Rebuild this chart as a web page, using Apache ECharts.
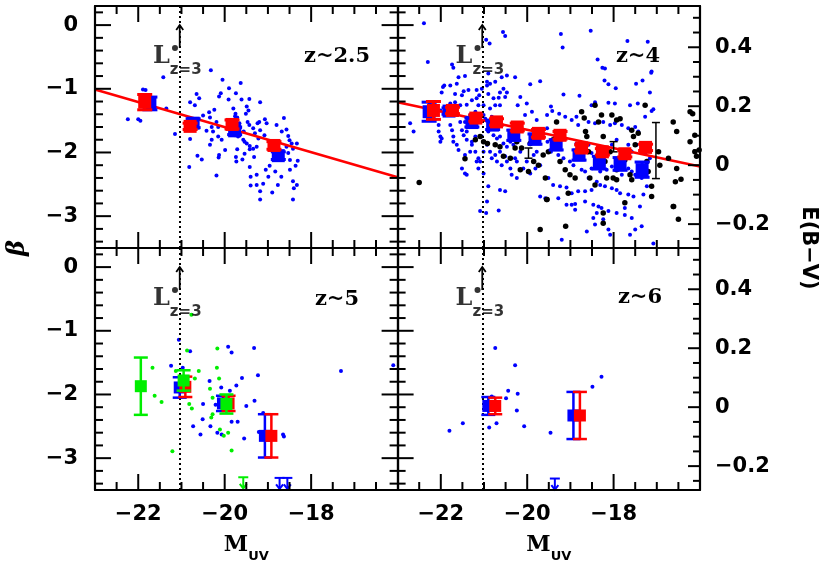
<!DOCTYPE html>
<html><head><meta charset="utf-8">
<script src="https://cdn.jsdelivr.net/npm/echarts@6/dist/echarts.min.js"></script>
<style>html,body{margin:0;padding:0;background:#fff}#c{width:830px;height:564px}</style>
</head><body><div id="c"></div>
<script>
// ---------- axes / ticks ----------
const X_MIN = -23, X_MAX = -16;
const B_MIN = -3.5, B_MAX = 0.3;
const E_MIN = -0.281, E_MAX = 0.540;
const xMajorTicks = [-22, -20, -18];
const xMinorTicks = [-22.5, -21.5, -21, -20.5, -19.5, -19, -18.5, -17.5, -17, -16.5];
const bMajorTicks = [0, -1, -2, -3];
const bMinorTicks = [0.2, -0.2, -0.4, -0.6, -0.8, -1.2, -1.4, -1.6, -1.8, -2.2, -2.4, -2.6, -2.8, -3.2, -3.4];
const eMajorTicks = [-0.2, 0, 0.2, 0.4];
const eMinorTicks = [-0.25, -0.15, -0.1, -0.05, 0.05, 0.1, 0.15, 0.25, 0.3, 0.35, 0.45, 0.5];
const panelLabels = ['z~2.5', 'z~4', 'z~5', 'z~6'];

// L*(z=3) marker
const LSTAR = -21.03;
const LDOT = [-21.15, -0.36];
const LARROW = [[-21.04, -0.36, 0.0]];

// ---------- z~2.5 ----------
const z25Blue = [[-22.24,-1.48],[-22.00,-1.48],[-21.95,-1.50],[-21.89,-1.01],[-21.83,-1.02],[-21.35,-1.31],
[-21.42,-0.82],[-20.32,-0.71],[-20.05,-0.86],[-19.63,-0.91],[-19.90,-0.99],[-20.09,-1.07],[-20.13,-1.12],[-19.74,-1.07],[-20.65,-1.08],[-20.59,-1.15],[-20.80,-1.21],[-20.69,-1.26],[-20.50,-1.42],[-20.36,-1.37],[-20.24,-1.33],[-20.34,-1.45],[-20.19,-1.52],[-20.15,-1.60],[-19.91,-1.17],[-19.61,-1.17],[-19.43,-1.16],[-19.49,-1.28],[-19.45,-1.34],[-19.51,-1.39],[-19.18,-1.21],[-19.80,-1.31],[-19.75,-1.39],[-19.71,-1.45],[-19.76,-1.43],[-19.47,-1.52],[-19.43,-1.57],[-19.24,-1.54],[-19.20,-1.52],[-19.07,-1.48],[-19.18,-1.65],[-19.08,-1.73],[-19.34,-1.62],[-19.30,-1.70],[-19.22,-1.78],[-19.03,-1.54],[-18.63,-1.46],[-18.80,-1.57],[-18.68,-1.67],[-18.57,-1.64],[-18.53,-1.74],[-18.50,-1.81],[-18.33,-1.86],[-21.15,-1.71],[-20.80,-1.79],[-20.42,-1.66],[-20.27,-1.67],[-20.30,-1.80],[-20.15,-1.75],[-20.34,-1.88],[-20.07,-1.80],[-19.99,-1.96],[-20.13,-2.04],[-20.14,-2.08],[-20.63,-2.05],[-20.53,-2.11],[-20.82,-2.23],[-20.19,-2.36],[-19.71,-1.95],[-19.74,-2.07],[-19.73,-2.14],[-19.59,-2.11],[-19.54,-2.02],[-19.49,-1.86],[-19.42,-1.90],[-19.42,-1.95],[-19.34,-1.94],[-19.26,-1.91],[-19.32,-2.07],[-19.42,-2.23],[-19.40,-2.38],[-19.26,-2.35],[-19.26,-2.51],[-19.40,-2.52],[-19.18,-2.61],[-19.11,-2.49],[-19.05,-2.27],[-18.99,-2.38],[-18.90,-2.63],[-18.96,-2.21],[-18.83,-2.30],[-18.77,-2.51],[-18.69,-2.38],[-18.49,-2.27],[-18.42,-2.45],[-18.40,-2.56],[-18.33,-2.51],[-18.36,-2.21],[-18.31,-2.13],[-18.49,-2.12],[-18.53,-2.01],[-18.42,-1.94],[-18.45,-1.86],[-18.57,-1.91],[-18.68,-1.99],[-18.42,-2.74],[-19.18,-2.74],[-19.88,-1.60],[-19.80,-1.67],[-19.76,-1.73],[-19.69,-1.75],[-19.66,-1.54],[-19.65,-1.62],[-19.56,-1.67],[-19.57,-1.80],[-19.54,-1.83],[-20.30,-1.60]];
const z25RedBins  = [[-21.85,-1.21,0.12],[-20.80,-1.59,0.05],[-19.83,-1.56,0.07],[-18.86,-1.89,0.06]];
const z25BlueBins = [[-21.73,-1.23,0.10],[-20.73,-1.54,0.07],[-19.77,-1.66,0.06],[-18.76,-2.05,0.06]];
const z25Fit = [[-23,-1.01],[-16,-2.39]];

// ---------- z~4 ----------
const z4Blue = [[-22.39,0.03],[-22.30,-0.58],[-20.95,-0.23],[-20.87,-0.29],[-20.56,-0.11],[-20.51,-0.17],[-21.74,-0.62],[-21.71,-0.67],[-21.44,-0.80],[-21.59,-0.82],[-21.95,-0.97],[-21.92,-0.95],[-21.98,-1.06],[-21.78,-0.95],[-21.63,-0.92],[-21.67,-1.08],[-21.51,-1.10],[-21.47,-1.04],[-21.36,-1.02],[-21.17,-1.02],[-21.05,-1.00],[-20.93,-0.95],[-20.90,-1.08],[-20.86,-0.92],[-20.78,-1.15],[-20.74,-1.26],[-20.66,-1.14],[-20.63,-1.06],[-20.55,-1.00],[-20.51,-1.13],[-20.47,-1.06],[-20.28,-0.82],[-20.22,-1.26],[-19.93,-0.93],[-19.70,-0.88],[-20.01,-1.23],[-22.25,-1.22],[-22.13,-1.26],[-22.01,-1.34],[-21.86,-1.31],[-21.78,-1.23],[-21.67,-1.21],[-21.55,-1.26],[-21.40,-1.25],[-21.28,-1.18],[-21.17,-1.15],[-21.01,-1.26],[-20.86,-1.31],[-20.63,-1.26],[-21.01,-1.41],[-22.71,-1.54],[-22.63,-1.67],[-22.05,-1.57],[-22.05,-1.67],[-22.01,-1.75],[-22.01,-1.83],[-21.98,-1.78],[-21.78,-1.57],[-21.74,-1.65],[-21.71,-1.75],[-21.71,-1.83],[-21.63,-1.88],[-21.59,-1.96],[-21.51,-1.65],[-21.47,-1.73],[-21.40,-1.80],[-21.28,-1.88],[-21.32,-1.99],[-21.44,-2.04],[-21.20,-1.99],[-21.13,-2.09],[-21.09,-2.14],[-21.01,-1.99],[-20.93,-1.88],[-20.86,-1.99],[-20.82,-2.09],[-20.74,-2.04],[-20.70,-2.14],[-20.63,-1.99],[-20.59,-2.20],[-20.51,-2.06],[-20.47,-2.14],[-20.39,-2.25],[-20.36,-2.35],[-20.24,-2.40],[-20.90,-2.53],[-20.63,-2.59],[-20.51,-2.61],[-21.17,-2.14],[-21.13,-2.25],[-21.01,-2.33],[-21.05,-1.75],[-21.20,-1.75],[-21.28,-1.83],[-21.40,-1.67],[-20.90,-1.67],[-20.78,-1.73],[-20.70,-1.78],[-20.63,-1.75],[-20.55,-1.86],[-20.47,-1.91],[-20.39,-1.83],[-20.32,-1.88],[-20.28,-2.09],[-20.24,-2.14],[-20.01,-2.14],[-19.85,-2.04],[-19.78,-1.99],[-20.16,-1.99],[-20.09,-2.25],[-19.93,-2.33],[-19.81,-2.25],[-19.70,-2.20],[-21.40,-2.35],[-21.44,-2.33],[-21.51,-2.25],[-20.97,-1.47],[-20.82,-1.44],[-20.66,-1.49],[-20.93,-2.77],[-20.66,-2.91],[-20.95,-2.95],[-19.70,-2.69],[-19.58,-2.72],[-21.09,-2.92],[-21.63,-1.41],[-21.55,-1.52],[-21.44,-1.52],[-21.78,-1.39],[-21.32,-1.41],[-21.20,-1.36],[-20.16,-1.13],[-20.05,-1.41],[-19.89,-1.36],[-19.78,-1.49],[-19.54,-1.41],[-19.54,-1.62],[-20.59,-0.82],[-20.47,-0.79],[-20.90,-0.76],[-20.93,-0.89],[-20.74,-0.89],[-21.11,-1.10],[-21.13,-1.26],
[-19.22,-0.14],[-19.18,-0.35],[-18.53,-0.09],[-18.37,-0.54],[-18.26,-0.67],[-18.20,-0.68],[-18.21,-0.87],[-18.12,-0.93],[-17.95,-0.99],[-17.68,-0.25],[-17.21,-0.26],[-17.13,-0.75],[-17.12,-0.73],[-17.48,-0.92],[-17.33,-0.87],[-17.16,-1.06],[-19.16,-1.09],[-18.79,-1.11],[-18.43,-1.21],[-18.51,-1.26],[-18.12,-1.22],[-17.97,-1.23],[-17.62,-1.26],[-17.44,-1.23],[-17.12,-1.35],[-17.08,-1.32],[-17.27,-1.44],[-19.45,-1.28],[-19.42,-1.35],[-19.26,-1.39],[-19.12,-1.44],[-18.97,-1.49],[-18.86,-1.44],[-18.82,-1.57],[-18.58,-1.52],[-18.43,-1.54],[-18.24,-1.52],[-18.08,-1.57],[-17.97,-1.54],[-17.81,-1.57],[-17.66,-1.62],[-17.50,-1.60],[-17.43,-1.67],[-19.43,-1.88],[-19.45,-1.99],[-19.28,-2.04],[-19.16,-2.09],[-19.01,-2.14],[-18.93,-2.20],[-18.74,-2.27],[-18.66,-2.30],[-18.51,-2.25],[-18.31,-2.30],[-18.16,-2.27],[-18.04,-2.22],[-17.81,-2.20],[-17.66,-2.25],[-17.50,-2.35],[-17.35,-2.40],[-17.23,-2.53],[-19.51,-2.40],[-19.40,-2.51],[-19.24,-2.53],[-19.09,-2.55],[-18.97,-2.64],[-18.82,-2.61],[-18.66,-2.61],[-18.51,-2.59],[-18.31,-2.51],[-18.20,-2.53],[-18.04,-2.56],[-17.93,-2.59],[-17.85,-2.64],[-17.66,-2.66],[-17.54,-2.69],[-17.31,-2.66],[-19.28,-2.72],[-19.09,-2.82],[-18.89,-2.81],[-18.66,-2.77],[-18.47,-2.82],[-18.35,-2.85],[-18.39,-2.95],[-18.28,-2.87],[-18.12,-2.92],[-17.93,-2.95],[-17.74,-2.98],[-17.39,-2.85],[-18.97,-2.82],[-18.89,-2.90],[-19.20,-3.37],[-18.62,-3.24],[-18.47,-3.03],[-18.43,-3.13],[-18.24,-3.05],[-18.12,-3.21],[-18.08,-3.29],[-17.62,-3.29],[-17.50,-3.21],[-17.35,-3.16],[-17.08,-3.43],[-17.74,-2.87],[-17.58,-3.03],[-19.53,-1.83],[-19.36,-1.75],[-19.12,-1.78],[-18.86,-1.86],[-18.70,-1.93],[-18.58,-1.88],[-18.51,-2.01],[-18.35,-1.99],[-18.20,-1.96],[-18.04,-1.88],[-17.93,-1.80],[-17.66,-1.88],[-17.58,-1.99],[-17.47,-1.88],[-17.27,-2.01],[-17.16,-2.09],[-17.81,-2.35],[-17.58,-2.30],[-18.58,-2.40],[-18.39,-2.46],[-18.78,-2.09]];
const z4Black = [[-22.50,-2.47],[-21.44,-2.10],[-21.01,-1.83],[-20.92,-1.86],[-20.74,-1.88],[-20.63,-1.91],[-20.55,-2.06],[-20.39,-2.09],[-20.28,-1.93],[-20.28,-1.78],[-20.24,-1.83],[-20.13,-1.93],[-19.93,-1.86],[-19.85,-2.14],[-19.74,-2.20],[-19.63,-2.04],[-19.58,-2.40],[-19.54,-2.74],[-19.70,-3.21],[-20.16,-2.27],[-19.97,-2.30],[-21.20,-1.80],[-21.09,-1.75],
[-19.55,-2.74],[-19.51,-1.99],[-19.40,-1.80],[-19.32,-1.52],[-19.24,-2.14],[-19.11,-3.16],[-19.12,-2.27],[-19.01,-2.35],[-19.05,-2.64],[-18.74,-1.36],[-18.68,-1.46],[-18.65,-1.67],[-18.62,-1.75],[-18.55,-2.40],[-18.43,-1.26],[-18.35,-1.52],[-18.24,-1.75],[-18.20,-2.14],[-18.16,-2.40],[-18.28,-1.41],[-18.24,-2.95],[-18.24,-3.11],[-18.04,-1.41],[-17.93,-1.49],[-17.85,-1.47],[-18.01,-2.40],[-17.93,-2.27],[-17.81,-2.14],[-17.74,-2.12],[-17.58,-1.65],[-17.54,-1.75],[-17.50,-1.88],[-17.62,-2.35],[-17.58,-2.43],[-17.43,-1.70],[-17.27,-1.26],[-17.23,-2.14],[-17.20,-2.30],[-17.12,-2.53],[-17.12,-2.69],[-16.96,-1.99],[-16.93,-2.20],[-16.73,-2.09],[-16.62,-1.52],[-16.54,-1.67],[-16.54,-2.25],[-16.62,-2.85],[-16.50,-3.05],[-16.23,-1.36],[-16.23,-1.83],[-16.12,-1.99],[-16.08,-2.06],[-17.74,-2.79],[-17.93,-2.43],[-18.89,-2.40],[-18.82,-1.88],[-19.28,-1.91],[-18.08,-1.99],[-18.58,-1.99],[-18.43,-2.51],[-16.57,-2.46],[-16.61,-2.85],[-16.17,-1.39],[-16.12,-1.73],[-16.02,-1.96],[-16.44,-2.42]];
const z4RedBins  = [[-22.17,-1.34,0.14],[-21.73,-1.34,0.05],[-21.19,-1.46,0.05],[-20.71,-1.52,0.05],[-20.23,-1.60,0.06],[-19.74,-1.70,0.06],[-19.24,-1.73,0.06],[-18.74,-1.93,0.05],[-18.26,-1.99,0.05],[-17.74,-2.02,0.05],[-17.26,-1.92,0.05]];
const z4BlueBins = [[-22.27,-1.36,0.15],[-21.81,-1.35,0.05],[-21.28,-1.53,0.07],[-20.80,-1.57,0.07],[-20.31,-1.73,0.08],[-19.82,-1.79,0.08],[-19.33,-1.88,0.08],[-18.80,-2.04,0.08],[-18.33,-2.16,0.10],[-17.85,-2.18,0.10],[-17.34,-2.27,0.12]];
const z4BlackBars = [[-19.97,-2.01,0.08],[-18.00,-1.91,0.08],[-17.02,-1.97,0.44]];
const z4Fit = [[-23,-1.21],[-16,-2.22]];

// ---------- z~5 ----------
const z5Blue = [[-21.24,-1.55],[-21.06,-1.14],[-20.97,-1.58],[-20.80,-1.32],[-20.35,-1.79],[-20.08,-1.89],[-19.88,-1.94],[-19.92,-1.25],[-19.84,-1.34],[-19.32,-1.27],[-19.60,-1.74],[-19.73,-1.86],[-19.23,-1.70],[-19.31,-2.10],[-19.50,-2.18],[-20.50,-2.15],[-20.21,-2.16],[-20.51,-2.39],[-20.73,-2.50],[-20.33,-2.50],[-20.56,-2.63],[-20.17,-2.60],[-20.07,-2.63],[-19.84,-2.43],[-19.70,-2.43],[-19.55,-2.69],[-19.21,-2.59],[-19.11,-2.29],[-18.65,-2.63],[-18.63,-2.66],[-17.31,-1.63],[-16.10,-1.54]];
const z5Green = [[-20.77,-0.75],[-21.67,-1.58],[-21.62,-2.02],[-21.46,-2.12],[-21.21,-2.89],[-20.87,-1.31],[-20.60,-1.63],[-20.17,-1.28],[-20.18,-1.58],[-20.13,-1.75],[-20.34,-1.91],[-20.28,-2.05],[-20.82,-2.15],[-20.76,-2.22],[-20.31,-2.36],[-20.28,-2.31],[-20.11,-2.55],[-20.02,-2.65],[-19.92,-2.60],[-19.84,-2.88],[-20.69,-1.75],[-21.13,-1.63]];
const z5RedBins   = [[-20.91,-1.88,0.16],[-19.91,-2.14,0.12],[-18.92,-2.65,0.34]];
const z5BlueBins  = [[-21.04,-1.89,0.16],[-20.04,-2.14,0.12],[-19.07,-2.65,0.34]];
const z5GreenBins = [[-21.94,-1.87,0.45],[-20.95,-1.78,0.16],[-19.96,-2.15,0.15]];
const z5GreenLimits = [[-19.57,-3.30]];
const z5BlueLimits  = [[-18.73,-3.31],[-18.55,-3.31]];

// ---------- z~6 ----------
const z6Blue = [[-21.80,-2.57],[-21.49,-2.45],[-20.88,-2.52],[-20.71,-2.45],[-20.74,-1.27],[-20.28,-1.54],[-20.44,-1.94],[-20.22,-1.99],[-20.49,-2.06],[-20.24,-2.25],[-20.07,-2.50],[-19.46,-2.60],[-18.49,-1.88],[-18.28,-1.72],[-20.82,-2.03]];
const z6RedBins  = [[-20.74,-2.18,0.13],[-18.78,-2.33,0.37]];
const z6BlueBins = [[-20.90,-2.18,0.14],[-18.93,-2.33,0.37]];
const z6BlueLimits = [[-19.36,-3.32]];

// ---------- layout ----------
const grids = [
  {left: 95, top: 6, width: 302.6, height: 242},
  {left: 397.6, top: 6, width: 302.4, height: 242},
  {left: 95, top: 248, width: 302.6, height: 242},
  {left: 397.6, top: 248, width: 302.4, height: 242}
];
const BLUE = '#0000ff', RED = '#ff0000', GREEN = '#00ee00', BLACK = '#000000';
const SANS = 'DejaVu Sans', SERIF = 'DejaVu Serif';

function fmtMinus(v) { return v < 0 ? '\u2212' + String(Math.abs(v)) : String(v); }

function axis(g, pos, min, max, labelVals, margin, extra) {
  const a = {
    gridIndex: g, type: 'value', min: min, max: max, position: pos,
    axisLine: {show: true, onZero: false, lineStyle: {color: '#000', width: 2.2}},
    axisTick: {show: false},
    axisLabel: labelVals ? {show: true, customValues: labelVals, formatter: fmtMinus, color: '#000',
      fontFamily: SANS, fontWeight: 'bold', fontSize: 21, margin: margin} : {show: false},
    splitLine: {show: false}, minorTick: {show: false}, minorSplitLine: {show: false}, z: 10
  };
  return Object.assign(a, extra || {});
}

// per grid: xAxis 2g = bottom, 2g+1 = top; yAxis 2g = left (beta), 2g+1 = right (beta or E(B-V))
const xAxes = [], yAxes = [];
for (let g = 0; g < 4; g++) {
  const bottomRow = g >= 2, rightCol = g % 2 === 1;
  const nameOpt = bottomRow ? {
    name: '{m|M}{s|UV}', nameLocation: 'middle', nameGap: 44,
    nameTextStyle: {rich: {
      m: {fontFamily: SERIF, fontWeight: 'bold', fontSize: 22, color: '#000', padding: [0, 0, 7, 0], verticalAlign: 'bottom'},
      s: {fontFamily: SANS, fontWeight: 'bold', fontSize: 13, color: '#000', verticalAlign: 'bottom'}
    }}
  } : {};
  xAxes.push(axis(g, 'bottom', X_MIN, X_MAX, bottomRow ? xMajorTicks : null, 14, nameOpt));
  xAxes.push(axis(g, 'top', X_MIN, X_MAX, null, 0));
  yAxes.push(axis(g, 'left', B_MIN, B_MAX, rightCol ? null : bMajorTicks, 17));
  if (rightCol) yAxes.push(axis(g, 'right', E_MIN, E_MAX, eMajorTicks, 15));
  else yAxes.push(axis(g, 'right', B_MIN, B_MAX, null, 0));
}

function ax(g) { return {xAxisIndex: 2 * g, yAxisIndex: 2 * g}; }

// inward tick marks drawn through the axes' own scales
function xTicks(g, vals, len) {
  return {type: 'custom', xAxisIndex: 2 * g, yAxisIndex: 2 * g, silent: true, z: 12, animation: false, clip: false,
    data: vals.map(v => [v, B_MIN]),
    renderItem: function (params, api) {
      const cs = params.coordSys, p = api.coord([api.value(0), api.value(1)]);
      const st = {stroke: '#000', lineWidth: 2};
      return {type: 'group', children: [
        {type: 'line', shape: {x1: p[0], y1: cs.y + cs.height, x2: p[0], y2: cs.y + cs.height - len}, style: st},
        {type: 'line', shape: {x1: p[0], y1: cs.y, x2: p[0], y2: cs.y + len}, style: st}
      ]};
    }};
}
function yTicks(g, yIdx, vals, len, left, right) {
  return {type: 'custom', xAxisIndex: 2 * g, yAxisIndex: yIdx, silent: true, z: 12, animation: false, clip: false,
    data: vals.map(v => [X_MIN, v]),
    renderItem: function (params, api) {
      const cs = params.coordSys, p = api.coord([api.value(0), api.value(1)]);
      const st = {stroke: '#000', lineWidth: 2};
      const ch = [];
      if (left) ch.push({type: 'line', shape: {x1: cs.x, y1: p[1], x2: cs.x + len, y2: p[1]}, style: st});
      if (right) ch.push({type: 'line', shape: {x1: cs.x + cs.width, y1: p[1], x2: cs.x + cs.width - len, y2: p[1]}, style: st});
      return {type: 'group', children: ch};
    }};
}

function dots(g, data, color, size, z) {
  return Object.assign({type: 'scatter', data: data, symbol: 'circle', symbolSize: size,
    itemStyle: {color: color, opacity: 1}, silent: true, z: z || 2, animation: false}, ax(g));
}
function fitLine(g, data) {
  return Object.assign({type: 'line', data: data, showSymbol: false, symbol: 'none',
    lineStyle: {color: RED, width: 2.5}, silent: true, z: 3, animation: false}, ax(g));
}
function bins(g, data, color, o) {
  return Object.assign({type: 'custom', data: data, silent: true, z: o.z || 5, animation: false,
    renderItem: function (params, api) {
      const x = api.value(0), y = api.value(1), e = api.value(2);
      const c = api.coord([x, y]), t = api.coord([x, y + e]), b = api.coord([x, y - e]);
      const w = o.cap, lw = o.lw, s = o.sq;
      const st = {stroke: color, lineWidth: lw};
      const ch = [
        {type: 'line', shape: {x1: c[0], y1: t[1], x2: c[0], y2: b[1]}, style: st},
        {type: 'line', shape: {x1: c[0] - w / 2, y1: t[1], x2: c[0] + w / 2, y2: t[1]}, style: st},
        {type: 'line', shape: {x1: c[0] - w / 2, y1: b[1], x2: c[0] + w / 2, y2: b[1]}, style: st}
      ];
      if (s) ch.push({type: 'rect', shape: {x: c[0] - s / 2, y: c[1] - s / 2, width: s, height: s}, style: {fill: color}});
      return {type: 'group', children: ch};
    }}, ax(g));
}
function limits(g, data, color) {
  return Object.assign({type: 'custom', data: data, silent: true, z: 6, animation: false,
    renderItem: function (params, api) {
      const c = api.coord([api.value(0), api.value(1)]);
      const st = {stroke: color, lineWidth: 2, fill: 'none'};
      const L = 11;
      return {type: 'group', children: [
        {type: 'line', shape: {x1: c[0] - 5, y1: c[1], x2: c[0] + 5, y2: c[1]}, style: st},
        {type: 'line', shape: {x1: c[0], y1: c[1], x2: c[0], y2: c[1] + L}, style: st},
        {type: 'polyline', shape: {points: [[c[0] - 3.5, c[1] + L - 4.5], [c[0], c[1] + L], [c[0] + 3.5, c[1] + L - 4.5]]}, style: st}
      ]};
    }}, ax(g));
}
function lstar(g) {
  const dot = Object.assign({type: 'scatter', data: [LDOT], symbol: 'circle', symbolSize: 6,
    itemStyle: {color: BLACK}, silent: true, z: 8, animation: false,
    label: {show: true, formatter: '{L|L}{s|z=3}', position: [-19, 0], color: '#000',
      rich: {
        L: {fontFamily: SERIF, fontWeight: 'bold', fontSize: 24, color: '#000', padding: [0, 0, 9, 0], verticalAlign: 'bottom'},
        s: {fontFamily: SANS, fontWeight: 'bold', fontSize: 15, color: '#000', verticalAlign: 'bottom'}
      }},
    markLine: {silent: true, symbol: 'none', animation: false, label: {show: false},
      lineStyle: {color: BLACK, width: 2, type: [2, 3]}, data: [{xAxis: LSTAR}]}
  }, ax(g));
  const arrow = Object.assign({type: 'custom', data: LARROW, silent: true, z: 8, animation: false,
    renderItem: function (params, api) {
      const a = api.coord([api.value(0), api.value(1)]), b = api.coord([api.value(0), api.value(2)]);
      const st = {stroke: BLACK, lineWidth: 1.8, fill: 'none'};
      return {type: 'group', children: [
        {type: 'line', shape: {x1: a[0], y1: a[1], x2: b[0], y2: b[1]}, style: st},
        {type: 'polyline', shape: {points: [[b[0] - 3.5, b[1] + 5], [b[0], b[1]], [b[0] + 3.5, b[1] + 5]]}, style: st}
      ]};
    }}, ax(g));
  return [dot, arrow];
}

const binStyle = {cap: 15, lw: 3, sq: 13};
const series = [];
for (let g = 0; g < 4; g++) {
  const rightCol = g % 2 === 1;
  series.push(xTicks(g, xMinorTicks, 8));
  series.push(xTicks(g, xMajorTicks, 16));
  series.push(yTicks(g, 2 * g, bMinorTicks, 8, true, !rightCol));
  series.push(yTicks(g, 2 * g, bMajorTicks, 16, true, !rightCol));
  if (rightCol) {
    series.push(yTicks(g, 2 * g + 1, eMinorTicks, 7, false, true));
    series.push(yTicks(g, 2 * g + 1, eMajorTicks, 12, false, true));
  }
}
// z~2.5
series.push(dots(0, z25Blue, BLUE, 4));
series.push(fitLine(0, z25Fit));
series.push(bins(0, z25BlueBins, BLUE, binStyle));
series.push(bins(0, z25RedBins, RED, Object.assign({}, binStyle, {z: 6})));
series.push(...lstar(0));
// z~4
series.push(dots(1, z4Blue, BLUE, 4));
series.push(dots(1, z4Black, BLACK, 5.5, 3));
series.push(fitLine(1, z4Fit));
series.push(bins(1, z4BlackBars, BLACK, {cap: 8, lw: 1.5, sq: 0}));
series.push(bins(1, z4BlueBins, BLUE, binStyle));
series.push(bins(1, z4RedBins, RED, Object.assign({}, binStyle, {z: 6})));
series.push(...lstar(1));
// z~5
series.push(dots(2, z5Blue, BLUE, 4));
series.push(dots(2, z5Green, GREEN, 4));
series.push(bins(2, z5BlueBins, BLUE, {cap: 14, lw: 2.5, sq: 12}));
series.push(bins(2, z5RedBins, RED, {cap: 14, lw: 2.5, sq: 12, z: 6}));
series.push(bins(2, z5GreenBins, GREEN, {cap: 14, lw: 2.5, sq: 12, z: 7}));
series.push(limits(2, z5GreenLimits, GREEN));
series.push(limits(2, z5BlueLimits, BLUE));
series.push(...lstar(2));
// z~6
series.push(dots(3, z6Blue, BLUE, 4));
series.push(bins(3, z6BlueBins, BLUE, {cap: 14, lw: 2.5, sq: 12}));
series.push(bins(3, z6RedBins, RED, {cap: 14, lw: 2.5, sq: 12, z: 6}));
series.push(limits(3, z6BlueLimits, BLUE));
series.push(...lstar(3));

const labelPos = [[337, 57], [638, 57], [337, 300], [640, 298]];
const graphic = labelPos.map((p, i) => ({type: 'text', x: p[0], y: p[1], z: 20, silent: true,
  style: {text: panelLabels[i], fontFamily: SERIF, fontWeight: 'bold', fontSize: 21, fill: '#000', align: 'center', verticalAlign: 'middle'}}));
graphic.push({type: 'text', x: 18, y: 248, rotation: Math.PI / 2, z: 20, silent: true,
  style: {text: '\u03b2', fontFamily: SERIF, fontWeight: 'bold', fontStyle: 'italic', fontSize: 24, fill: '#000', align: 'center', verticalAlign: 'middle'}});
graphic.push({type: 'text', x: 808, y: 248, rotation: -Math.PI / 2, z: 20, silent: true,
  style: {text: 'E(B\u2212V)', fontFamily: SANS, fontWeight: 'bold', fontSize: 21, fill: '#000', align: 'center', verticalAlign: 'middle'}});

const chart = echarts.init(document.getElementById('c'), null, {renderer: 'canvas'});
chart.setOption({
  animation: false,
  backgroundColor: '#fff',
  grid: grids,
  xAxis: xAxes,
  yAxis: yAxes,
  series: series,
  graphic: graphic
});
</script></body></html>
